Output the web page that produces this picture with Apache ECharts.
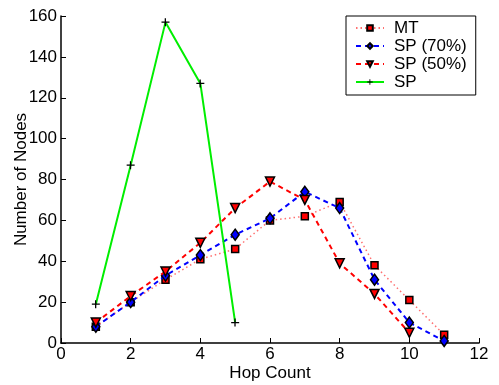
<!DOCTYPE html>
<html>
<head>
<meta charset="utf-8">
<script src="https://cdn.jsdelivr.net/npm/echarts@6/dist/echarts.min.js"></script>
<style>
  html, body { margin: 0; padding: 0; background: #fff; }
  #chart { width: 499px; height: 385px; }
</style>
</head>
<body>
<div id="chart"></div>
<script>
// hop counts on the x axis
const hops = [1, 2, 3, 4, 5, 6, 7, 8, 9, 10, 11];
const mt = [8, 20, 31, 41, 46, 60, 62, 69, 38, 21, 4];
const sp70 = [8, 20, 33, 43, 53, 61, 74, 66, 31, 10, 1];
const sp50 = [10, 23, 35, 49, 66, 79, 70, 39, 24, 5];
const spHops = [1, 2, 3, 4, 5];
const sp = [19, 87, 157, 127, 10];

const xTicks = [0, 12, 2];
const yTicks = [0, 160, 20];

const FONT = '"Liberation Sans", Arial, sans-serif';
const plus = 'path://M4,0h1.6v4.2h4.4v1.6h-4.4v4.2h-1.6v-4.2h-4v-1.6h4z';

const pairs = (xs, ys) => ys.map((v, i) => [xs[i], v]);

const chart = echarts.init(document.getElementById('chart'));

const text = { fontFamily: FONT, fontSize: 17, color: '#000' };

const option = {
  animation: false,
  backgroundColor: '#fff',
  grid: { left: 61, right: 20, top: 16, bottom: 42, containLabel: false, outerBoundsMode: 'none' },
  legend: {
    orient: 'vertical',
    left: 346,
    top: 16,
    padding: [3, 9, 4, 9],
    itemWidth: 28,
    itemHeight: 7,
    itemGap: 0,
    borderColor: '#000',
    borderWidth: 1,
    backgroundColor: '#fff',
    textStyle: Object.assign({}, text, { lineHeight: 18, padding: [0, 0, 0, 5] }),
    data: ['MT', 'SP (70%)', 'SP (50%)', 'SP']
  },
  xAxis: {
    type: 'value',
    min: xTicks[0],
    max: xTicks[1],
    interval: xTicks[2],
    name: 'Hop Count',
    nameLocation: 'middle',
    nameGap: 22,
    nameMoveOverlap: false,
    nameTextStyle: text,
    axisLine: { lineStyle: { color: '#000', width: 1.5 } },
    axisTick: { inside: true, length: 5, lineStyle: { color: '#000' } },
    axisLabel: Object.assign({}, text, { margin: 3 }),
    splitLine: { show: false }
  },
  yAxis: {
    type: 'value',
    min: yTicks[0],
    max: yTicks[1],
    interval: yTicks[2],
    name: 'Number of Nodes',
    nameLocation: 'middle',
    nameGap: 31,
    nameMoveOverlap: false,
    nameTextStyle: text,
    axisLine: { show: true, lineStyle: { color: '#000', width: 1.5 } },
    axisTick: { show: true, inside: true, length: 5, lineStyle: { color: '#000' } },
    axisLabel: Object.assign({}, text, { margin: 4 }),
    splitLine: { show: false }
  },
  series: [
    {
      name: 'MT',
      type: 'line',
      data: pairs(hops, mt),
      symbol: 'rect',
      symbolSize: 7,
      lineStyle: { color: '#ff7070', width: 1.5, type: [1.5, 3] },
      itemStyle: { color: '#ff0000', borderColor: '#000', borderWidth: 1.5 },
      z: 2
    },
    {
      name: 'SP (70%)',
      type: 'line',
      data: pairs(hops, sp70),
      symbol: 'diamond',
      symbolSize: [8, 11],
      lineStyle: { color: '#0000ff', width: 2, type: [5, 4] },
      itemStyle: { color: '#0000ff', borderColor: '#000', borderWidth: 1.5 },
      z: 3
    },
    {
      name: 'SP (50%)',
      type: 'line',
      data: pairs(hops, sp50),
      symbol: 'triangle',
      symbolRotate: 180,
      symbolSize: 9,
      lineStyle: { color: '#ff0000', width: 2, type: [5, 4] },
      itemStyle: { color: '#ff0000', borderColor: '#000', borderWidth: 1.5 },
      z: 4
    },
    {
      name: 'SP',
      type: 'line',
      data: pairs(spHops, sp),
      symbol: plus,
      symbolSize: 8,
      lineStyle: { color: '#00ee00', width: 2 },
      itemStyle: { color: '#000' },
      z: 5
    }
  ]
};

chart.setOption(option);
</script>
</body>
</html>
